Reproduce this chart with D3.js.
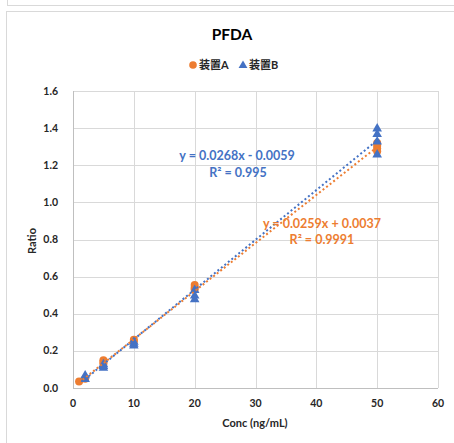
<!DOCTYPE html>
<html>
<head>
<meta charset="utf-8">
<script src="https://cdn.jsdelivr.net/npm/d3@7"></script>
<style>
  body { margin: 0; background: #fff; }
  svg { display: block; font-family: Lato, "Noto Sans CJK JP", sans-serif; }
</style>
</head>
<body>
<svg width="454" height="443"></svg>
<script>
const seriesNames = ["装置A", "装置B"];
const concA = [1, 2, 5, 5, 5, 10, 10, 20, 20, 20, 50, 50, 50, 50];
const ratioA = [0.035, 0.05, 0.15, 0.14, 0.13, 0.26, 0.25, 0.555, 0.54, 0.53, 1.32, 1.305, 1.29, 1.275];
const concB = [2, 2, 5, 5, 5, 10, 10, 10, 20, 20, 20, 50, 50, 50, 50];
const ratioB = [0.07, 0.05, 0.13, 0.12, 0.11, 0.25, 0.24, 0.23, 0.53, 0.50, 0.48, 1.40, 1.37, 1.33, 1.26];
// trendline coefficients as printed on the chart
const fitA = { slope: 0.0259, icpt: 0.0037, eq: "y = 0.0259x + 0.0037", r2: "R² = 0.9991" };
const fitB = { slope: 0.0268, icpt: -0.0059, eq: "y = 0.0268x - 0.0059", r2: "R² = 0.995" };
const xTicks = [0, 10, 20, 30, 40, 50, 60];
const yTicks = [0, 0.2, 0.4, 0.6, 0.8, 1.0, 1.2, 1.4, 1.6];

const orange = "#ED7D31", blue = "#4472C4";
const svg = d3.select("svg");

// chart frames
svg.append("rect").attr("x", 7.5).attr("y", -10).attr("width", 460).attr("height", 15.5)
  .attr("fill", "none").attr("stroke", "#d9d9d9");
svg.append("rect").attr("x", 6.5).attr("y", 11.5).attr("width", 460).attr("height", 440)
  .attr("fill", "#fff").attr("stroke", "#d9d9d9");

const x = d3.scaleLinear().domain([0, 60]).range([73, 438]);
const y = d3.scaleLinear().domain([0, 1.6]).range([388, 91]);

// gridlines
svg.append("g").selectAll("line").data(yTicks.slice(1)).join("line")
  .attr("x1", x(0)).attr("x2", x(60))
  .attr("y1", d => Math.round(y(d)) + 0.5).attr("y2", d => Math.round(y(d)) + 0.5)
  .attr("stroke", "#d9d9d9");
svg.append("g").selectAll("line").data(xTicks.slice(1)).join("line")
  .attr("y1", y(0)).attr("y2", y(1.6))
  .attr("x1", d => Math.round(x(d)) + 0.5).attr("x2", d => Math.round(x(d)) + 0.5)
  .attr("stroke", "#d9d9d9");

// axes lines
svg.append("line").attr("x1", x(0)).attr("x2", x(60)).attr("y1", Math.round(y(0)) + 0.5).attr("y2", Math.round(y(0)) + 0.5)
  .attr("stroke", "#bfbfbf");
svg.append("line").attr("x1", Math.round(x(0)) + 0.5).attr("x2", Math.round(x(0)) + 0.5).attr("y1", y(0)).attr("y2", y(1.6))
  .attr("stroke", "#bfbfbf");

// tick labels
svg.append("g").selectAll("text").data(yTicks).join("text")
  .attr("x", 58).attr("y", d => y(d) + 3.5).attr("text-anchor", "end")
  .attr("font-size", 10.5).attr("font-weight", "bold").attr("fill", "#262626")
  .text(d => d3.format(".1f")(d));
svg.append("g").selectAll("text").data(xTicks).join("text")
  .attr("x", d => x(d)).attr("y", 407).attr("text-anchor", "middle")
  .attr("font-size", 10.5).attr("font-weight", "bold").attr("fill", "#262626")
  .text(d => d);

// axis titles
svg.append("text").attr("x", 255).attr("y", 427).attr("text-anchor", "middle")
  .attr("font-size", 11).attr("font-weight", "bold").attr("fill", "#262626").text("Conc (ng/mL)");
svg.append("text").attr("transform", "translate(36,241) rotate(-90)").attr("text-anchor", "middle")
  .attr("font-size", 11).attr("font-weight", "bold").attr("fill", "#262626").text("Ratio");

// title
svg.append("text").attr("x", 232).attr("y", 40).attr("text-anchor", "middle")
  .attr("font-size", 15.5).attr("font-weight", "bold").attr("fill", "#000").text("PFDA");

// legend
const legend = svg.append("g").attr("font-size", 11).attr("font-weight", "bold").attr("fill", "#262626");
legend.append("circle").attr("cx", 193).attr("cy", 65).attr("r", 3.8).attr("fill", orange);
legend.append("text").attr("x", 199).attr("y", 69).text(seriesNames[0]);
legend.append("path").attr("d", d3.symbol(d3.symbolTriangle, 34)).attr("transform", "translate(243,65.5)").attr("fill", blue);
legend.append("text").attr("x", 249).attr("y", 69).text(seriesNames[1]);

// trendlines
function trend(cs, fit, color) {
  const x0 = d3.min(cs), x1 = d3.max(cs);
  svg.append("line")
    .attr("x1", x(x0)).attr("y1", y(fit.slope * x0 + fit.icpt))
    .attr("x2", x(x1)).attr("y2", y(fit.slope * x1 + fit.icpt))
    .attr("stroke", color).attr("stroke-width", 2).attr("stroke-dasharray", "2,2.5");
}

// points
const ptsA = concA.map((c, i) => [c, ratioA[i]]);
const ptsB = concB.map((c, i) => [c, ratioB[i]]);
svg.append("g").selectAll("circle").data(ptsA).join("circle")
  .attr("cx", d => x(d[0])).attr("cy", d => y(d[1])).attr("r", 4).attr("fill", orange);
svg.append("g").selectAll("path").data(ptsB).join("path")
  .attr("d", d3.symbol(d3.symbolTriangle, 40))
  .attr("transform", d => `translate(${x(d[0])},${y(d[1]) + 0.5})`).attr("fill", blue);

trend(concA, fitA, orange);
trend(concB, fitB, blue);

// equation labels
const eq = svg.append("g").attr("font-size", 12.5).attr("font-weight", "bold").attr("text-anchor", "middle");
eq.append("text").attr("x", 237).attr("y", 160).attr("fill", blue).text(fitB.eq);
eq.append("text").attr("x", 238).attr("y", 177).attr("fill", blue).text(fitB.r2);
eq.append("text").attr("x", 322).attr("y", 228).attr("fill", orange).text(fitA.eq);
eq.append("text").attr("x", 322).attr("y", 244).attr("fill", orange).text(fitA.r2);
</script>
</body>
</html>
